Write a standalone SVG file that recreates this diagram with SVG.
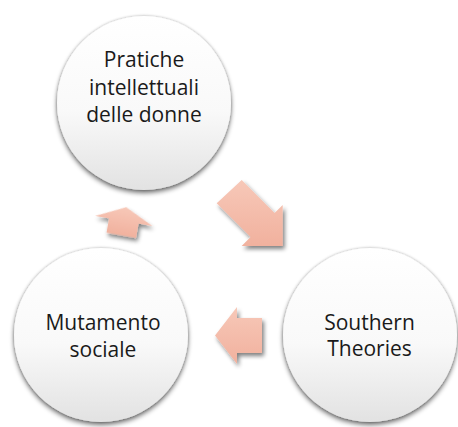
<svg xmlns="http://www.w3.org/2000/svg" width="458" height="427" viewBox="0 0 458 427">
  <defs>
    <linearGradient id="circleFill" x1="0" y1="0" x2="0" y2="1">
      <stop offset="0" stop-color="#ffffff"/>
      <stop offset="0.55" stop-color="#f9f9f9"/>
      <stop offset="1" stop-color="#e2e2e2"/>
    </linearGradient>
    <linearGradient id="arrowFill" x1="0" y1="0" x2="0" y2="1">
      <stop offset="0" stop-color="#f7c8b8"/>
      <stop offset="1" stop-color="#f1b19e"/>
    </linearGradient>
    <filter id="circleShadow" x="-20%" y="-20%" width="140%" height="140%">
      <feGaussianBlur in="SourceAlpha" stdDeviation="2.5" result="b"/>
      <feOffset in="b" dy="3" result="o"/>
      <feComponentTransfer in="o" result="s">
        <feFuncA type="linear" slope="0.55"/>
      </feComponentTransfer>
      <feGaussianBlur in="SourceAlpha" stdDeviation="1.5" result="g"/>
      <feComponentTransfer in="g" result="g2">
        <feFuncA type="linear" slope="0.25"/>
      </feComponentTransfer>
      <feMerge>
        <feMergeNode in="g2"/>
        <feMergeNode in="s"/>
        <feMergeNode in="SourceGraphic"/>
      </feMerge>
    </filter>
    <filter id="arrowShadow" x="-30%" y="-30%" width="160%" height="160%">
      <feGaussianBlur in="SourceAlpha" stdDeviation="2" result="b"/>
      <feOffset in="b" dx="2" dy="3" result="o"/>
      <feComponentTransfer in="o" result="s">
        <feFuncA type="linear" slope="0.5"/>
      </feComponentTransfer>
      <feMerge>
        <feMergeNode in="s"/>
        <feMergeNode in="SourceGraphic"/>
      </feMerge>
    </filter>
  </defs>
  <style>
    .circle { fill: url(#circleFill); filter: url(#circleShadow); }
    .arrow { fill: url(#arrowFill); filter: url(#arrowShadow); }
    .label { font-family: "Open Sans", "Noto Sans", "DejaVu Sans", sans-serif; font-size: 21px; fill: #1a1a1a; text-anchor: middle; }
  </style>

  <g id="connectors">
    <polygon id="arrow-top-to-right" class="arrow" points="241.7,180 274.6,213.1 282.7,205 282.7,246 241.7,246 250.6,237.1 216.7,203.3"/>
    <polygon id="arrow-right-to-left" class="arrow" points="262,318 237,318 237,307 215,335.5 237,364 237,353 262,353"/>
    <polygon id="arrow-left-to-top" class="arrow" transform="translate(123.8,221) rotate(10)" points="0,-14 29,0 15,0 15,14.5 -15,14.5 -15,0 -29,0"/>
  </g>

  <g id="node-pratiche">
    <circle class="circle" cx="144" cy="103" r="87"/>
    <text class="label" x="144" y="67">Pratiche</text>
    <text class="label" x="144" y="94.5">intellettuali</text>
    <text class="label" x="144" y="122">delle donne</text>
  </g>

  <g id="node-southern">
    <circle class="circle" cx="370" cy="335" r="87"/>
    <text class="label" x="369.5" y="330">Southern</text>
    <text class="label" x="369.5" y="356">Theories</text>
  </g>

  <g id="node-mutamento">
    <circle class="circle" cx="101" cy="335" r="87"/>
    <text class="label" x="103" y="330">Mutamento</text>
    <text class="label" x="103" y="357">sociale</text>
  </g>
</svg>
